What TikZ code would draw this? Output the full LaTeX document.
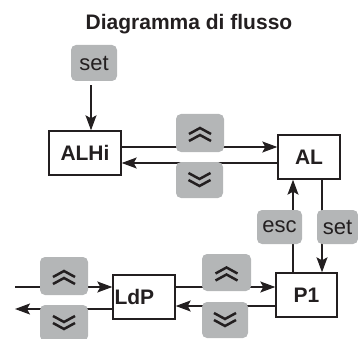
\documentclass[tikz,border=0pt]{standalone}
\usepackage{fontspec}
\setmainfont{Liberation Sans}
\usetikzlibrary{arrows.meta}
\definecolor{btn}{RGB}{180,182,183}
\definecolor{ink}{RGB}{35,31,32}
\begin{document}
\begin{tikzpicture}[x=1pt,y=-1pt,
  box/.style={draw=ink,line width=1.4pt,fill=white,inner sep=0pt,text=ink,font=\fontsize{21}{23}\selectfont\bfseries},
  btn/.style={fill=btn,rounded corners=5pt,inner sep=0pt,text=ink,font=\fontsize{22}{24}\selectfont},
  arr/.style={draw=ink,line width=1.3pt,-{Stealth[length=15pt,width=11pt,inset=3pt]}},
  chev/.style={draw=ink,line width=2.5pt,miter limit=10},
  pics/chevup/.style={code={
    \draw[chev] (-11,0)--(0,-6)--(11,0);
    \draw[chev] (-11,7)--(0,1)--(11,7);}},
  pics/chevdn/.style={code={
    \draw[chev] (-11,0)--(0,6)--(11,0);
    \draw[chev] (-11,-7)--(0,-1)--(11,-7);}}
]
\useasboundingbox (0,0) rectangle (358,339);
\node[text=ink,font=\fontsize{21}{24}\selectfont\bfseries] (title) at (189,24) {Diagramma di flusso};
% boxes
\node[box,minimum width=72pt,minimum height=44pt] (ALHi) at (85,153) {ALHi};
\node[box,minimum width=62pt,minimum height=44pt] (AL) at (309,157) {AL};
\node[box,minimum width=61pt,minimum height=44pt] (P1) at (306.5,295) {P1};
\node[box,minimum width=62pt,minimum height=44pt,text width=59pt,align=left] (LdP) at (144,297) {LdP};
% top set button
\node[btn,minimum width=46pt,minimum height=36pt] (setT) at (94,63) {set};
\coordinate (inL) at (15,287);
\coordinate (outL) at (15,309);
% arrows
\draw[arr] ([xshift=-3pt,yshift=-4pt]setT.south) -- ([xshift=-3pt]setT.south |- ALHi.north);
\draw[arr] (ALHi.east |- 0,147) -- (AL.west |- 0,147);
\draw[arr] (AL.west |- 0,163) -- (ALHi.east |- 0,163);
\draw[arr] (P1.north -| 293,0) -- (AL.south -| 293,0);
\draw[arr] (AL.south -| 322,0) -- (P1.north -| 322,0);
\draw[arr] (LdP.east |- 0,287) -- (P1.west |- 0,287);
\draw[arr] (P1.west |- 0,306) -- (LdP.east |- 0,306);
\draw[arr] (inL) -- (LdP.west |- inL);
\draw[arr] (LdP.west |- outL) -- (outL);
% buttons
\node[btn,minimum width=48pt,minimum height=38pt] (upA) at (200,133) {};
\node[btn,minimum width=47pt,minimum height=36pt] (dnA) at (199.5,180) {};
\node[btn,minimum width=45pt,minimum height=34pt] (esc) at (279.5,227) {esc};
\node[btn,minimum width=41pt,minimum height=34pt] (setR) at (337.5,227) {set};
\node[btn,minimum width=49pt,minimum height=37pt] (upB) at (226.5,272.5) {};
\node[btn,minimum width=46pt,minimum height=36pt] (dnB) at (225,320) {};
\node[btn,minimum width=48pt,minimum height=38pt] (upC) at (64,276) {};
\node[btn,minimum width=48pt,minimum height=36pt] (dnC) at (64,323) {};
\pic at ([yshift=-1pt]upA) {chevup};
\pic at (dnA) {chevdn};
\pic at ([yshift=-1pt]upB) {chevup};
\pic at (dnB) {chevdn};
\pic at ([yshift=-1pt]upC) {chevup};
\pic at (dnC) {chevdn};
\end{tikzpicture}
\end{document}
